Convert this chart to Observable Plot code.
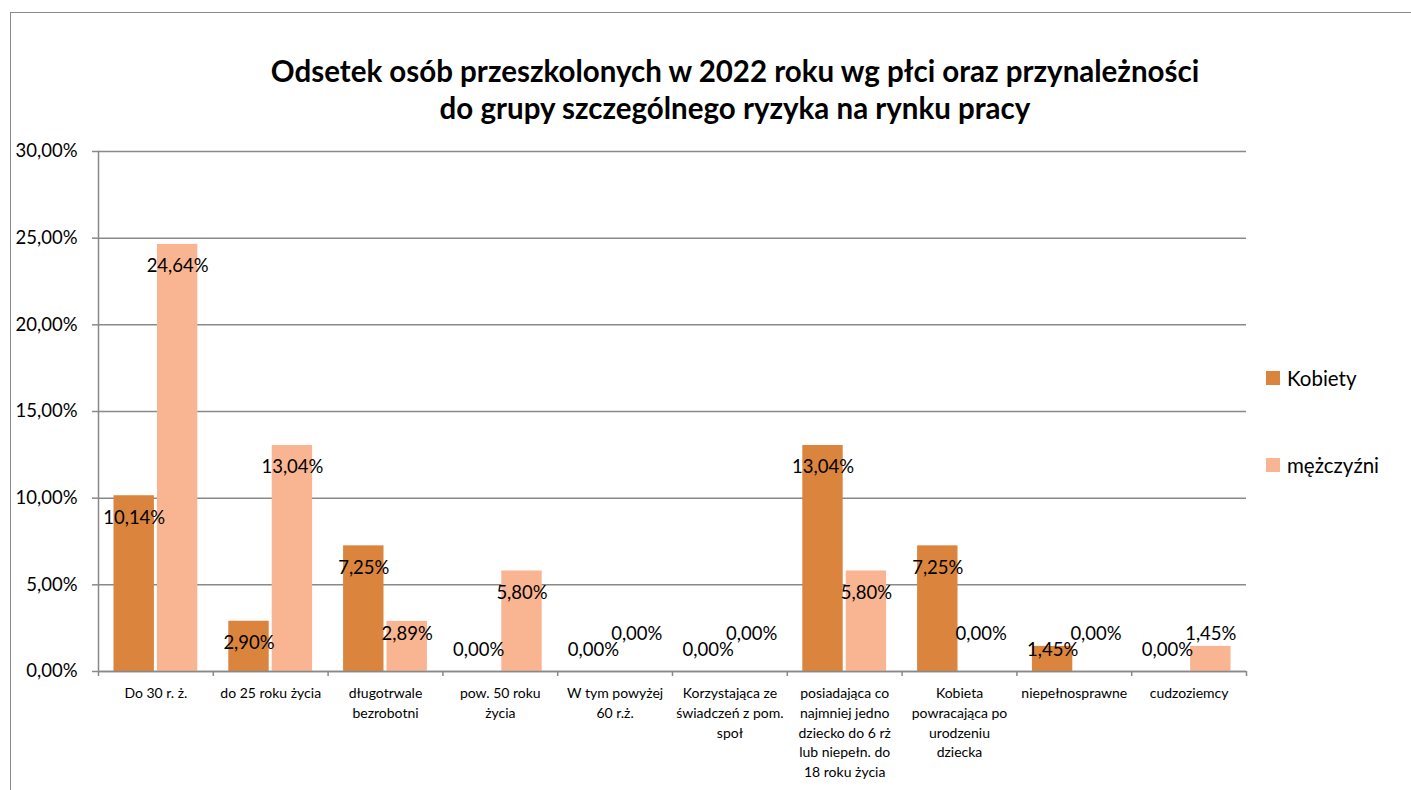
<!DOCTYPE html>
<html><head><meta charset="utf-8">
<script src="https://cdn.jsdelivr.net/npm/d3@7"></script>
<script src="https://cdn.jsdelivr.net/npm/@observablehq/plot@0.6"></script>
<style>
body{margin:0;background:#fff;}
#wrap{position:relative;width:1411px;height:790px;overflow:hidden;font-family:Lato,"Open Sans",sans-serif;color:#000;}
#border{position:absolute;left:10px;top:12px;width:1420px;height:800px;border-left:1.5px solid #8a8a8a;border-top:1.5px solid #8a8a8a;}
#title{position:absolute;left:0;width:1470px;top:52px;text-align:center;font-weight:bold;font-size:29.5px;line-height:37px;}
#chart{position:absolute;left:0;top:0;}
.leg{position:absolute;left:1266px;font-size:20.5px;display:flex;align-items:center;height:24px;}
.sw{width:14px;height:14px;margin-right:7px;}
</style></head>
<body>
<div id="wrap">
  <div id="border"></div>
  <div id="chart"></div>
  <div id="title">Odsetek osób przeszkolonych w 2022 roku wg płci oraz przynależności<br>do grupy szczególnego ryzyka na rynku pracy</div>
  <div id="legend"></div>
</div>
<script>
const categories = ["Do 30 r. ż.", "do 25 roku życia", "długotrwale bezrobotni", "pow. 50 roku życia", "W tym powyżej 60 r.ż.", "Korzystająca ze świadczeń z pom. społ", "posiadająca co najmniej jedno dziecko do 6 rż lub niepełn. do 18 roku życia", "Kobieta powracająca po urodzeniu dziecka", "niepełnosprawne", "cudzoziemcy"];
const categoryLabels = ["Do 30 r. ż.", "do 25 roku życia", "długotrwale\nbezrobotni", "pow. 50 roku\nżycia", "W tym powyżej\n60 r.ż.", "Korzystająca ze\nświadczeń z pom.\nspoł", "posiadająca co\nnajmniej jedno\ndziecko do 6 rż\nlub niepełn. do\n18 roku życia", "Kobieta\npowracająca po\nurodzeniu\ndziecka", "niepełnosprawne", "cudzoziemcy"];
const kobiety = [10.14, 2.90, 7.25, 0.00, 0.00, 0.00, 13.04, 7.25, 1.45, 0.00];
const mezczyzni = [24.64, 13.04, 2.89, 5.80, 0.00, 0.00, 5.80, 0.00, 0.00, 1.45];
const seriesNames = ["Kobiety", "mężczyźni"];
const seriesColors = ["#DB843D", "#F9B591"];
const yTicks = [0, 5, 10, 15, 20, 25, 30];

const rows = categories.map((c, i) => ({category: c, k: kobiety[i], m: mezczyzni[i]}));
const fmt = v => v.toFixed(2).replace(".", ",") + "%";
const labelOf = new Map(categories.map((c, i) => [c, categoryLabels[i]]));
const grid = "#898989";

const chart = Plot.plot({
  width: 1411, height: 790,
  marginLeft: 98, marginRight: 165, marginTop: 151, marginBottom: 119,
  style: {fontFamily: 'Lato, "Open Sans", sans-serif', background: "transparent", color: "#000", overflow: "visible"},
  x: {domain: categories, paddingInner: 0.27, paddingOuter: 0.135, round: false, axis: null},
  y: {domain: [0, 30], axis: null},
  marks: [
    Plot.ruleY(yTicks, {stroke: grid, strokeWidth: 1.5}),
    Plot.barY(rows, {x: "category", y: "k", fill: seriesColors[0], insetRight: 43.4}),
    Plot.barY(rows, {x: "category", y: "m", fill: seriesColors[1], insetLeft: 43.4}),
    Plot.ruleY([0], {stroke: grid, strokeWidth: 1.5}),
    Plot.frame({anchor: "left", stroke: grid, strokeWidth: 1.5}),
    Plot.axisY({ticks: yTicks, tickSize: 6, tickPadding: 15, tickFormat: fmt, fontSize: 18.5, stroke: grid, strokeWidth: 1.5, fill: "#000", label: null}),
    Plot.axisX({tickSize: 0, tickPadding: 13, tickFormat: d => labelOf.get(d), fontSize: 14, lineHeight: 1.4, fill: "#000", label: null}),
    Plot.axisX({tickSize: 5, tickFormat: () => "", dx: -57.4, stroke: grid, strokeWidth: 1.5, label: null}),
    Plot.axisX({ticks: [categories[categories.length - 1]], tickSize: 5, tickFormat: () => "", dx: 57.4, stroke: grid, strokeWidth: 1.5, label: null}),
    Plot.text(rows, {x: "category", y: d => Math.max(d.k, 2.48), dx: -21.7, dy: 22, text: d => fmt(d.k), fontSize: 18.5, fill: "#000"}),
    Plot.text(rows, {x: "category", y: d => Math.max(d.m, 3.4), dx: 21.7, dy: 22, text: d => fmt(d.m), fontSize: 18.5, fill: "#000"})
  ]
});
document.getElementById("chart").appendChild(chart);

const legend = document.getElementById("legend");
const legendTops = [366, 453];
seriesNames.forEach((name, i) => {
  const el = document.createElement("div");
  el.className = "leg";
  el.style.top = legendTops[i] + "px";
  el.innerHTML = `<span class="sw" style="background:${seriesColors[i]}"></span><span>${name}</span>`;
  legend.appendChild(el);
});
</script>
</body></html>
